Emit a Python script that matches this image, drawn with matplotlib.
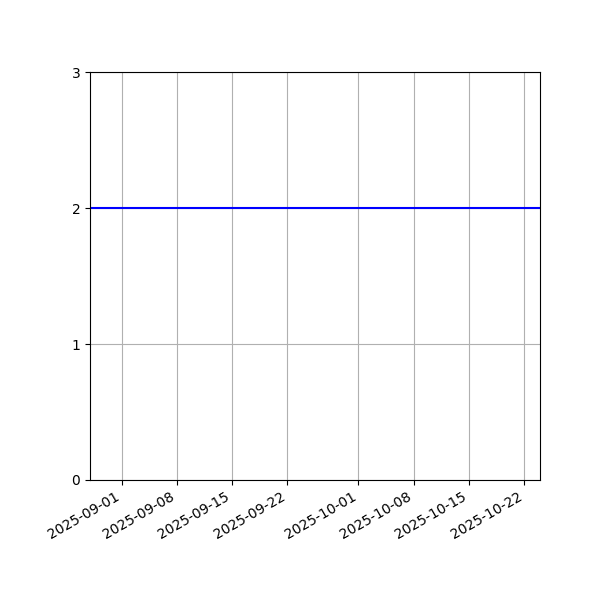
import matplotlib
matplotlib.use("Agg")
import matplotlib.pyplot as plt
import matplotlib.dates as mdates
import pandas as pd

# series endpoints
dates = pd.to_datetime(["2025-08-28", "2025-10-24"])
values = [2, 2]
tick_dates = pd.to_datetime(["2025-09-01", "2025-09-08", "2025-09-15", "2025-09-22",
                             "2025-10-01", "2025-10-08", "2025-10-15", "2025-10-22"])
y_ticks = [0, 1, 2, 3]

fig, ax = plt.subplots(figsize=(6, 6), dpi=100)
ax.plot(dates, values, color="b")
ax.set_xlim(dates[0], dates[-1])
ax.set_ylim(0, 3)
ax.set_yticks(y_ticks)
ax.set_xticks(tick_dates)
ax.xaxis.set_major_formatter(mdates.DateFormatter("%Y-%m-%d"))
ax.grid(True)
fig.autofmt_xdate()
fig.subplots_adjust(left=0.15, right=0.9, top=0.88, bottom=0.2)
fig.savefig("out.png")
plt.close(fig)
